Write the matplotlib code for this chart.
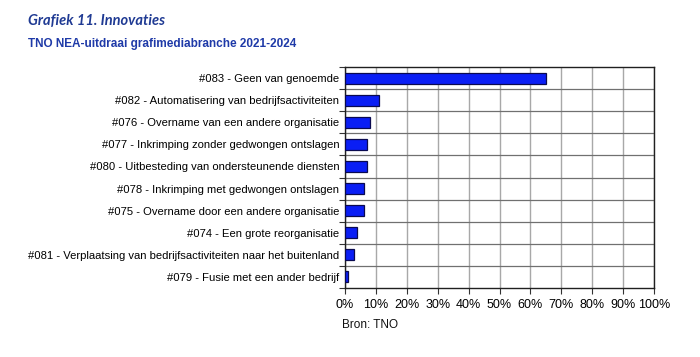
import matplotlib
matplotlib.use("Agg")
import matplotlib.pyplot as plt
import numpy as np

categories = [
    "#083 - Geen van genoemde",
    "#082 - Automatisering van bedrijfsactiviteiten",
    "#076 - Overname van een andere organisatie",
    "#077 - Inkrimping zonder gedwongen ontslagen",
    "#080 - Uitbesteding van ondersteunende diensten",
    "#078 - Inkrimping met gedwongen ontslagen",
    "#075 - Overname door een andere organisatie",
    "#074 - Een grote reorganisatie",
    "#081 - Verplaatsing van bedrijfsactiviteiten naar het buitenland",
    "#079 - Fusie met een ander bedrijf",
]
values = [65, 11, 8, 7, 7, 6, 6, 4, 3, 1]
xticks = [0, 10, 20, 30, 40, 50, 60, 70, 80, 90, 100]
xticklabels = [f"{v}%" for v in xticks]

plt.rcParams['font.family'] = ['Liberation Sans', 'DejaVu Sans']

fig = plt.figure(figsize=(7, 3.57), dpi=100)
ax = fig.add_axes([345/700, 1-288/357, (654-345)/700, (288-67)/357])

n = len(categories)
y = np.arange(n)
ax.barh(y, values, height=0.5, color='#0A1EF5', edgecolor='#0A0A50', linewidth=0.9, zorder=3)
ax.set_ylim(n - 0.5, -0.5)
ax.set_xlim(0, 100)

ax.set_xticks(xticks)
ax.set_xticklabels(xticklabels, fontsize=9)
ax.xaxis.grid(True, color='#A8A8A8', linewidth=1.0, zorder=0)
ax.set_axisbelow(True)

ax.set_yticks(y)
ax.set_yticklabels(categories, fontsize=8.1)
ax.tick_params(axis='y', length=0, pad=4)
ax.set_yticks(np.arange(n + 1) - 0.5, minor=True)
ax.tick_params(axis='y', which='minor', length=4, color='#333333', width=0.8)
ax.tick_params(axis='x', length=4, color='#333333', width=0.8, pad=4)
for b in np.arange(1, n) - 0.5:
    ax.axhline(b, color='#707070', linewidth=0.9, zorder=1)

for s in ax.spines.values():
    s.set_color('#202020')
    s.set_linewidth(1.0)

fig.text(28/700, 1-21/357, "Grafiek 11. Innovaties", fontsize=10.5, fontweight='bold',
         fontstyle='italic', color='#1F3A93', va='center', ha='left',
         family=['Lato', 'DejaVu Sans'])
fig.text(28/700, 1-44/357, "TNO NEA-uitdraai grafimediabranche 2021-2024", fontsize=8.5,
         fontweight='bold', color='#1F3AA8', va='center', ha='left')
fig.text(342/700, 1-325/357, "Bron: TNO", fontsize=8.5, color='#111111', va='center', ha='left')

fig.savefig("out.png", dpi=100, facecolor='white')
